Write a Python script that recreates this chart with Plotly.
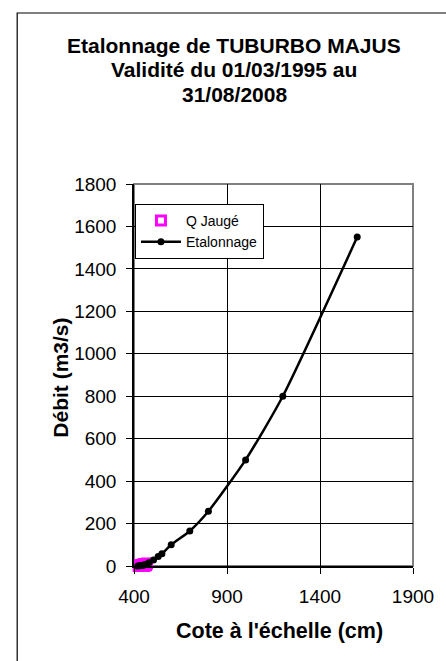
import plotly.graph_objects as go

# Data
cote_etal = [420, 430, 440, 450, 460, 480, 505, 530, 550, 600, 700, 800, 1000, 1200, 1600]
debit_etal = [0, 1, 2, 4, 7, 15, 28, 45, 58, 100, 165, 258, 500, 800, 1550]
cote_q = [415, 420, 425, 430, 435, 440, 445, 450, 455, 460, 465, 470]
debit_q = [-8, -4, 0, 3, -6, 5, -2, 8, 0, 10, 4, 12]

x_ticks = [400, 900, 1400, 1900]
y_ticks = [0, 200, 400, 600, 800, 1000, 1200, 1400, 1600, 1800]
title_lines = ["Etalonnage de TUBURBO MAJUS", "Validité du 01/03/1995 au", "31/08/2008"]
x_title = "Cote à l'échelle (cm)"
y_title = "Débit (m3/s)"

FONT = "Arial, Liberation Sans, sans-serif"

# plot area in pixels
L, R, T, B = 134, 423, 184, 566
PW, PH = R - L, B - T

def px(xp):
    return (xp - L) / PW

def py(yp):
    return (B - yp) / PH

fig = go.Figure()
fig.add_trace(go.Scatter(
    x=cote_q, y=debit_q, mode="markers", name="Q Jaugé",
    marker=dict(symbol="square-open", size=9, color="#FF00FF", line=dict(width=3, color="#FF00FF")),
    cliponaxis=False,
))
fig.add_trace(go.Scatter(
    x=cote_etal, y=debit_etal, mode="lines+markers", name="Etalonnage",
    line=dict(color="black", width=2.5, shape="spline", smoothing=0.6),
    marker=dict(symbol="circle", size=7, color="black"),
    cliponaxis=False,
))

# Outer frame
fig.add_shape(type="rect", xref="paper", yref="paper",
              x0=px(13), x1=px(470), y0=py(690), y1=py(13),
              line=dict(color="black", width=1.2), layer="below")
# plot border (gray)
fig.add_shape(type="rect", xref="paper", yref="paper", x0=0, x1=1, y0=0, y1=1,
              line=dict(color="#808080", width=2), layer="below")

for i, t in enumerate(title_lines):
    fig.add_annotation(text="<b>%s</b>" % t, xref="paper", yref="paper",
                       x=px(238), y=py(45 + 25 * i),
                       showarrow=False, xanchor="center", yanchor="middle",
                       font=dict(family=FONT, size=21, color="black"))

fig.add_annotation(text="<b>%s</b>" % x_title, xref="paper", yref="paper",
                   x=px(285), y=py(631), showarrow=False,
                   xanchor="center", yanchor="middle",
                   font=dict(family=FONT, size=21.5, color="black"))
fig.add_annotation(text="<b>%s</b>" % y_title, xref="paper", yref="paper",
                   x=px(57), y=py(378), showarrow=False, textangle=-90,
                   xanchor="center", yanchor="middle",
                   font=dict(family=FONT, size=21, color="black"))

fig.update_layout(
    width=446, height=661,
    margin=dict(l=L, r=446 - R, t=T, b=661 - B),
    paper_bgcolor="white", plot_bgcolor="white",
    font=dict(family=FONT, color="black"),
    showlegend=True,
    legend=dict(x=px(135), y=py(204), xanchor="left", yanchor="top",
                bgcolor="white", bordercolor="black", borderwidth=1,
                font=dict(family=FONT, size=14, color="black"),
                itemwidth=40),
    xaxis=dict(range=[400, 1900], tickvals=x_ticks, ticktext=[str(v) for v in x_ticks],
               showgrid=True, gridcolor="black", gridwidth=1,
               showline=True, linecolor="black", linewidth=1.5,
               ticks="outside", ticklen=6, tickcolor="black",
               tickfont=dict(family=FONT, size=19, color="black"),
               ticklabelstandoff=6, zeroline=False),
    yaxis=dict(range=[0, 1800], tickvals=y_ticks,
               showgrid=True, gridcolor="black", gridwidth=1,
               showline=True, linecolor="black", linewidth=1.5,
               ticks="outside", ticklen=6, tickcolor="black",
               tickfont=dict(family=FONT, size=19, color="black"),
               ticklabelstandoff=6, zeroline=False),
)

fig.write_html("out.html", config={"displayModeBar": False},
               post_script="document.body.style.margin='0px';document.body.style.overflow='hidden';")
